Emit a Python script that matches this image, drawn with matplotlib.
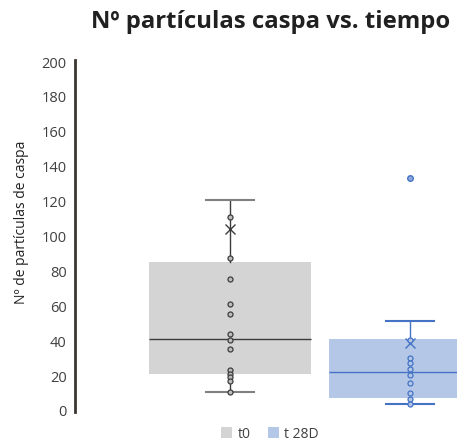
import matplotlib
matplotlib.use("Agg")
import matplotlib.pyplot as plt
from matplotlib.patches import Patch

# data
groups = ["t0", "t 28D"]
t0_points = [111.4, 87.9, 75.8, 61.5, 55.4, 44.3, 40.5, 35.3, 23.3, 21.4, 19.5, 17.2, 11.0]
t28_points = [40.7, 30.4, 27.3, 24.3, 20.6, 16.2, 10.1, 7.1, 4.0]
t28_outliers = [133.3]
q1 = [21.0, 7.7]
medians = [41.3, 22.3]
q3 = [85.4, 41.3]
whisk_lo = [11.1, 3.8]
whisk_hi = [121.0, 51.6]
means = [104.5, 39.0]

box_colors = ["#D4D4D4", "#B4C7E7"]
line_colors = ["#3C3C3C", "#4472C4"]

plt.rcParams["font.family"] = ["Open Sans", "DejaVu Sans"]

fig = plt.figure(figsize=(4.57, 4.45), dpi=100)
ax = fig.add_axes([75 / 457, 1 - 411 / 445, 1 - 75 / 457, 349 / 445])

stats = []
for i, g in enumerate(groups):
    stats.append({
        "label": g,
        "q1": q1[i], "med": medians[i], "q3": q3[i],
        "whislo": whisk_lo[i], "whishi": whisk_hi[i],
        "mean": means[i],
        "fliers": t28_outliers if i == 1 else [],
    })

positions = [1, 2]
for i in range(2):
    lc = line_colors[i]
    cap_c = "#808080" if i == 0 else lc
    ax.bxp([stats[i]], positions=[positions[i]], widths=0.904, patch_artist=True,
           showmeans=True, showfliers=True,
           boxprops=dict(facecolor=box_colors[i], edgecolor="none"),
           medianprops=dict(color=lc, linewidth=1.0),
           whiskerprops=dict(color=lc, linewidth=1.0),
           capprops=dict(color=cap_c, linewidth=1.5),
           capwidths=0.27,
           meanprops=dict(marker="x", markeredgecolor=lc, markersize=7, markeredgewidth=1.0),
           flierprops=dict(marker="o", markerfacecolor="#8FAADC", markeredgecolor=lc,
                           markersize=4, markeredgewidth=1.0))

ax.scatter([1] * len(t0_points), t0_points, s=13, facecolor="#BDBDBD",
           edgecolor="#3C3C3C", linewidth=0.9, zorder=5)
ax.scatter([2] * len(t28_points), t28_points, s=13, facecolor="#B4C7E7",
           edgecolor="#4472C4", linewidth=0.9, zorder=5)

ax.set_xlim(1 - 155 / 180, 2 + 47 / 180)
ax.set_ylim(0, 200)
ax.set_yticks(range(0, 201, 20))
ax.set_xticks([])
for s in ["top", "right", "bottom"]:
    ax.spines[s].set_visible(False)
ax.spines["left"].set_color("#3A3530")
ax.spines["left"].set_linewidth(2)
ax.spines["left"].set_bounds(-0.5, 201)
ax.tick_params(axis="y", length=0, pad=6, labelsize=10.5, labelcolor="#404040")
ax.set_ylabel("Nº de partículas de caspa", fontsize=10, color="#202020")
ax.yaxis.set_label_coords(-0.12, 0.54)

fig.text(271 / 457, 1 - 22 / 445, "Nº partículas caspa vs. tiempo", ha="center", va="center",
         fontsize=17.2, fontweight="bold", color="#202020")

handles = [Patch(facecolor=box_colors[0], edgecolor="none", label=groups[0]),
           Patch(facecolor=box_colors[1], edgecolor="none", label=groups[1])]
fig.legend(handles=handles, loc="center", bbox_to_anchor=(270 / 457, 1 - 434 / 445), ncol=2,
           frameon=False, fontsize=10, handlelength=0.8, handleheight=0.8,
           handletextpad=0.4, columnspacing=1.2, labelcolor="#404040")

fig.savefig("out.png", dpi=100)
